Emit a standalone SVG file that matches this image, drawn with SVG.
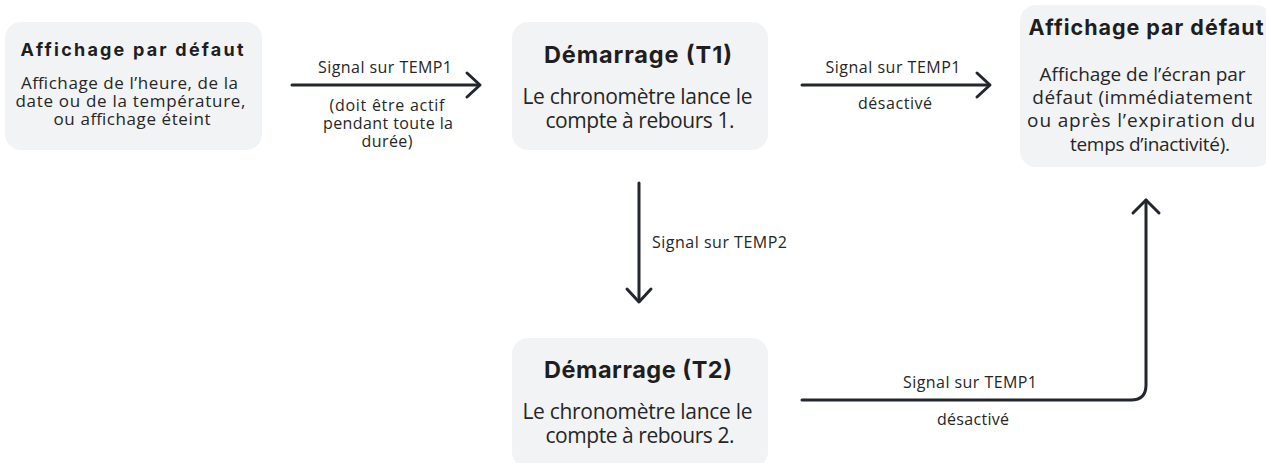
<svg xmlns="http://www.w3.org/2000/svg" width="1266" height="463" viewBox="0 0 1266 463">
<style>
  .box { fill: #f2f3f5; }
  .title { font-family: Inter, "Noto Sans", "Liberation Sans", sans-serif; font-weight: 700; fill: #1e1e1e; text-anchor: middle; }
  .body { font-family: "Open Sans", "Noto Sans", "Liberation Sans", sans-serif; fill: #262626; text-anchor: middle; }
  .lbl { font-family: "Open Sans", "Noto Sans", "Liberation Sans", sans-serif; font-size: 16px; fill: #262626; }
  .mid { text-anchor: middle; }
  .conn { fill: none; stroke: #22272e; stroke-width: 3; stroke-linecap: round; stroke-linejoin: round; }
</style>
<rect width="1266" height="463" fill="#ffffff"/>

<g id="node-affichage-defaut-1">
  <rect class="box" x="5" y="22" width="257" height="128" rx="16"/>
  <text class="title" x="132" y="56" font-size="18" textLength="223">Affichage par défaut</text>
  <text class="body" font-size="17">
    <tspan x="132" y="89" textLength="217">Affichage de l’heure, de la</tspan>
    <tspan x="133" y="107" textLength="230">date ou de la température,</tspan>
    <tspan x="132" y="125" textLength="157">ou affichage éteint</tspan>
  </text>
</g>

<g id="node-demarrage-t1">
  <rect class="box" x="512" y="22" width="256" height="128" rx="16"/>
  <text class="title" x="638" y="63" font-size="23.5" textLength="188">Démarrage (T1)</text>
  <text class="body" font-size="21">
    <tspan x="640" y="104" textLength="230">Le chronomètre lance le</tspan>
    <tspan x="640" y="128" textLength="189">compte à rebours 1.</tspan>
  </text>
</g>

<g id="node-affichage-defaut-2">
  <rect class="box" x="1020" y="5" width="252" height="162" rx="16"/>
  <text class="title" x="1146" y="35" font-size="21.5" textLength="235">Affichage par défaut</text>
  <text class="body" font-size="19">
    <tspan x="1145" y="81" textLength="206">Affichage de l’écran par</tspan>
    <tspan x="1145" y="104" textLength="220">défaut (immédiatement</tspan>
    <tspan x="1144" y="127" textLength="228">ou après l’expiration du</tspan>
    <tspan x="1150" y="151" textLength="160">temps d’inactivité).</tspan>
  </text>
</g>

<g id="node-demarrage-t2">
  <rect class="box" x="512" y="338" width="256" height="130" rx="16"/>
  <text class="title" x="638" y="378" font-size="23.5" textLength="188">Démarrage (T2)</text>
  <text class="body" font-size="21">
    <tspan x="640" y="419" textLength="230">Le chronomètre lance le</tspan>
    <tspan x="640" y="443" textLength="189">compte à rebours 2.</tspan>
  </text>
</g>

<g id="connectors">
  <g id="edge-1">
    <path class="conn" d="M292,85 H479"/>
    <path class="conn" d="M467,73 L480,85 L467,97"/>
    <text class="lbl mid" x="385" y="73" textLength="134">Signal sur TEMP1</text>
    <text class="lbl mid" x="387" y="111" textLength="115">(doit être actif</text>
    <text class="lbl mid" x="388" y="129" textLength="130">pendant toute la</text>
    <text class="lbl mid" x="387" y="147" textLength="51">durée)</text>
  </g>
  <g id="edge-2">
    <path class="conn" d="M802,85 H989"/>
    <path class="conn" d="M977,73 L990,85 L977,97"/>
    <text class="lbl mid" x="893" y="73" textLength="135">Signal sur TEMP1</text>
    <text class="lbl mid" x="895" y="109" textLength="74">désactivé</text>
  </g>
  <g id="edge-3">
    <path class="conn" d="M639,183 V301"/>
    <path class="conn" d="M627,289 L639,302 L651,289"/>
    <text class="lbl" x="652" y="248" textLength="135">Signal sur TEMP2</text>
  </g>
  <g id="edge-4">
    <path class="conn" d="M802,400 H1131 Q1146,400 1146,385 V200"/>
    <path class="conn" d="M1133,213 L1146,200 L1159,213"/>
    <text class="lbl mid" x="970" y="388" textLength="134">Signal sur TEMP1</text>
    <text class="lbl mid" x="973" y="425" textLength="72">désactivé</text>
  </g>
</g>
</svg>
